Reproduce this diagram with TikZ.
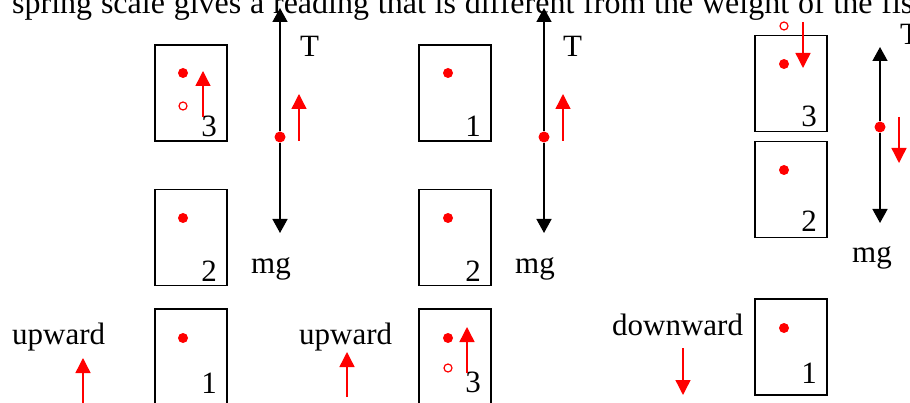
\documentclass[tikz,border=0pt]{standalone}
\usepackage{fontspec}
\setmainfont{Liberation Serif}
\usetikzlibrary{arrows.meta,positioning}

\begin{document}
\begin{tikzpicture}[
  x=1pt, y=-1pt,
  every node/.style={font=\fontsize{31}{36}\selectfont},
  fbox/.style={rectangle, draw=black, line width=1.3pt, minimum width=72pt, minimum height=96pt, inner sep=0pt},
  cmass/.style={circle, fill=red, inner sep=0pt, minimum size=10pt},
  cmring/.style={circle, draw=red, line width=1.2pt, inner sep=0pt, minimum size=8pt},
  cmdot/.style={circle, fill=red, inner sep=0pt, minimum size=11pt},
  num/.style={anchor=base east, inner sep=0pt},
  lbl/.style={anchor=base west, inner sep=0pt},
  farrow/.style={-{Triangle[length=15pt,width=15pt]}, draw=red, line width=1.4pt},
  tarrow/.style={-{Triangle[length=14pt,width=15pt]}, line width=1.5pt}
]
\useasboundingbox (0,0) rectangle (910,403);

\node[lbl, font=\fontsize{32}{36}\selectfont] (head) at (12,14) {\spaceskip=8.8pt\relax spring scale gives a reading that is different from the weight of the fish};

% first case: moving up
\node[fbox] (b13) at (191,93) {};
\node[fbox] (b12) at (191,237.5) {};
\node[fbox] (b11) at (191,357) {};
\node[cmass] (d13) at (183,73) {};
\node[cmring] (o13) at (183,106) {};
\node[cmass] (d12) at (183,218) {};
\node[cmass] (d11) at (183,338) {};
\node[num] (n13) at (217,137) {3};
\node[num] (n12) at (217,282) {2};
\node[num] (n11) at (217,393) {1};
\coordinate (v1a) at (203,117);
\coordinate (v1b) at (203,71);
\draw[farrow] (v1a) -- (v1b);

\node[cmdot] (p1) at (280,137) {};
\coordinate (t1) at (280,8);
\coordinate (g1) at (280,233);
\draw[tarrow] (p1) -- (t1);
\draw[tarrow] (p1) -- (g1);
\node[lbl] (T1) at (300,57) {T};
\node[lbl] (mg1) at (251,273) {mg};
\coordinate (f1a) at (299,141);
\coordinate (f1b) at (299,94);
\draw[farrow] (f1a) -- (f1b);

\node[lbl] (up1) at (12,344) {upward};
\coordinate (u1a) at (83,410);
\coordinate (u1b) at (83,358);
\draw[farrow] (u1a) -- (u1b);

% second case: moving up
\node[fbox] (b21) at (455,93) {};
\node[fbox] (b22) at (455,237.5) {};
\node[fbox] (b23) at (455,357) {};
\node[cmass] (d21) at (448,73) {};
\node[cmass] (d22) at (448,218) {};
\node[cmass] (d23) at (448,338) {};
\node[cmring] (o23) at (448,368) {};
\node[num] (n21) at (481,137) {1};
\node[num] (n22) at (481,282) {2};
\node[num] (n23) at (481,392) {3};
\coordinate (v2a) at (467,373);
\coordinate (v2b) at (467,327);
\draw[farrow] (v2a) -- (v2b);

\node[cmdot] (p2) at (544,137) {};
\coordinate (t2) at (544,8);
\coordinate (g2) at (544,233);
\draw[tarrow] (p2) -- (t2);
\draw[tarrow] (p2) -- (g2);
\node[lbl] (T2) at (563,57) {T};
\node[lbl] (mg2) at (515,273) {mg};
\coordinate (f2a) at (563,141);
\coordinate (f2b) at (563,94);
\draw[farrow] (f2a) -- (f2b);

\node[lbl] (up2) at (299,344) {upward};
\coordinate (u2a) at (347,397);
\coordinate (u2b) at (347,352);
\draw[farrow] (u2a) -- (u2b);

% third case: moving down
\node[fbox] (b33) at (791,83.5) {};
\node[fbox] (b32) at (791,189.5) {};
\node[fbox] (b31) at (791,347) {};
\node[cmass] (d33) at (784,64) {};
\node[cmring] (o33) at (784,26) {};
\node[cmass] (d32) at (784,170) {};
\node[cmass] (d31) at (784,328) {};
\node[num] (n33) at (817,127) {3};
\node[num] (n32) at (817,232) {2};
\node[num] (n31) at (817,383) {1};
\coordinate (v3a) at (803,22);
\coordinate (v3b) at (803,68);
\draw[farrow] (v3a) -- (v3b);

\node[cmdot] (p3) at (880,127) {};
\coordinate (t3) at (880,47);
\coordinate (g3) at (880,223);
\draw[tarrow] (p3) -- (t3);
\draw[tarrow] (p3) -- (g3);
\node[lbl] (T3) at (900,45) {T};
\node[lbl] (mg3) at (852,263) {mg};
\coordinate (f3a) at (899,117);
\coordinate (f3b) at (899,163);
\draw[farrow] (f3a) -- (f3b);

\node[lbl] (down3) at (612,335) {downward};
\coordinate (w3a) at (683,348);
\coordinate (w3b) at (683,395);
\draw[farrow] (w3a) -- (w3b);
\end{tikzpicture}
\end{document}
